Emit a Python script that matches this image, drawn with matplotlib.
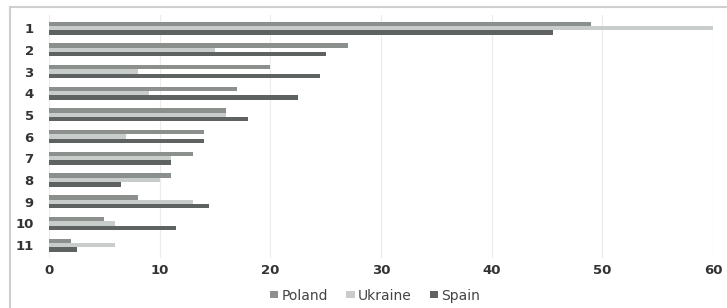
import matplotlib
matplotlib.use("Agg")
import matplotlib.pyplot as plt
from matplotlib.lines import Line2D
import numpy as np

# categories and series values
categories = ["1", "2", "3", "4", "5", "6", "7", "8", "9", "10", "11"]
poland = [49, 27, 20, 17, 16, 14, 13, 11, 8, 5, 2]
ukraine = [60, 15, 8, 9, 16, 7, 11, 10, 13, 6, 6]
spain = [45.5, 25, 24.5, 22.5, 18, 14, 11, 6.5, 14.5, 11.5, 2.5]
xticks = [0, 10, 20, 30, 40, 50, 60]

plt.rcParams['font.family'] = ['DejaVu Sans']

fig = plt.figure(figsize=(7.27, 3.08), dpi=100)
ax = fig.add_axes([0.0674, 0.162, 0.9133, 0.789])

y = np.arange(1, len(categories) + 1)
h = 0.2
ax.barh(y - h, poland, height=h, color='#8b908d', label='Poland')
ax.barh(y, ukraine, height=h, color='#c8cccb', label='Ukraine')
ax.barh(y + h, spain, height=h, color='#5e6361', label='Spain')

ax.set_xlim(0, 60)
ax.set_ylim(11.6, 0.4)
ax.set_xticks(xticks)
ax.set_yticks(y)
ax.set_yticklabels(categories)
ax.grid(axis='x', color='#ececec', linewidth=0.8)
ax.set_axisbelow(True)
for s in ax.spines.values():
    s.set_visible(False)
ax.tick_params(axis='both', length=0, labelsize=9.5, labelcolor='#333333')
ax.tick_params(axis='y', pad=11)
ax.tick_params(axis='x', pad=4)
for lbl in ax.get_xticklabels() + ax.get_yticklabels():
    lbl.set_fontweight('bold')

leg = fig.legend(loc='center', bbox_to_anchor=(0.516, 0.04), ncol=3, frameon=False,
                 fontsize=10, handlelength=0.6, handleheight=0.4, handletextpad=0.25,
                 columnspacing=1.3)
for t in leg.get_texts():
    t.set_color('#444444')

# outer frame (top and left edges)
fig.add_artist(Line2D([10/727, 1], [1 - 7/308, 1 - 7/308], transform=fig.transFigure,
                      color='#cfcfcf', linewidth=1.5))
fig.add_artist(Line2D([10/727, 10/727], [0, 1 - 7/308], transform=fig.transFigure,
                      color='#cfcfcf', linewidth=1.5))

fig.savefig('out.png', dpi=100)
